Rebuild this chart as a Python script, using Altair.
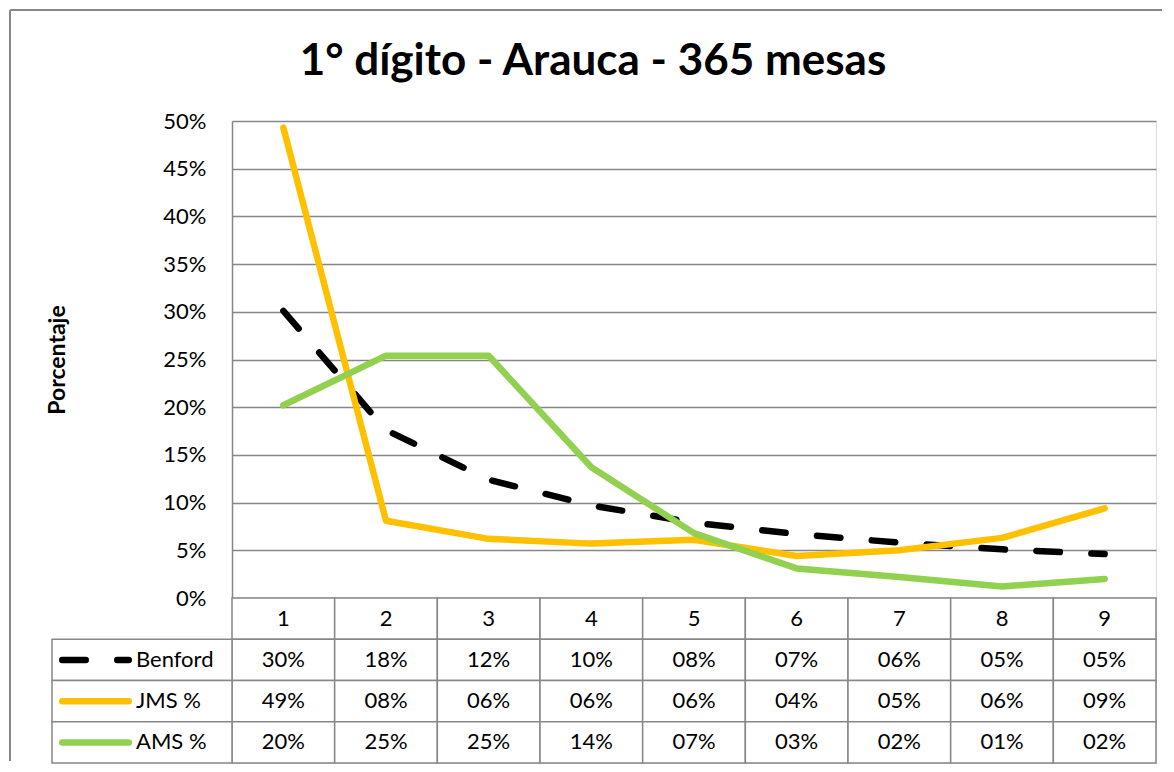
import altair as alt
import pandas as pd

# ---------------- data ----------------
DIGITS = [1, 2, 3, 4, 5, 6, 7, 8, 9]
SERIES = ["Benford", "JMS %", "AMS %"]
BENFORD = [0.301, 0.176, 0.124, 0.097, 0.079, 0.067, 0.058, 0.051, 0.046]
JMS = [0.493, 0.081, 0.062, 0.057, 0.061, 0.044, 0.050, 0.063, 0.094]
AMS = [0.202, 0.254, 0.254, 0.137, 0.068, 0.031, 0.022, 0.012, 0.020]
Y_TICKS = [0.0, 0.05, 0.10, 0.15, 0.20, 0.25, 0.30, 0.35, 0.40, 0.45, 0.50]
TITLE = "1° dígito - Arauca - 365 mesas"
Y_TITLE = "Porcentaje"

# ---------------- style ----------------
COLORS = {"Benford": "#000000", "JMS %": "#FFC000", "AMS %": "#92D050"}
DASH = {"Benford": [23.5, 31.5], "JMS %": None, "AMS %": None}
GRID = "#878787"
FONT = "Lato"
FS = 22
W, H_PLOT, H_TABLE = 924, 477, 165
PX = W / 9.0               # pixels per digit unit
LEG_LEFT = 0.5 - 180 / PX  # legend column left edge (data units)
LEG_L1 = 0.5 - (231 - 61.25) / PX
LEG_L2 = 0.5 - (231 - 127.75) / PX
LEG_TXT = 0.5 - 96 / PX
LW = 6.5

values = {"Benford": BENFORD, "JMS %": JMS, "AMS %": AMS}

rows = []
for name in SERIES:
    for d, v in zip(DIGITS, values[name]):
        rows.append({"serie": name, "digito": d, "valor": v})
lines_df = pd.DataFrame(rows)

def pct(v):
    return f"{int(v * 100 + 0.5):02d}%"

cells = []
for d in DIGITS:
    cells.append({"x1": d - 0.5, "x2": d + 0.5, "xt": d, "r0": 0, "r1": 1, "ym": 0.5, "txt": str(d)})
for i, name in enumerate(SERIES):
    for d, v in zip(DIGITS, values[name]):
        cells.append({"x1": d - 0.5, "x2": d + 0.5, "xt": d, "r0": i + 1, "r1": i + 2,
                      "ym": i + 1.5, "txt": pct(v)})
    cells.append({"x1": LEG_LEFT, "x2": 0.5, "xt": LEG_TXT, "r0": i + 1, "r1": i + 2,
                  "ym": i + 1.5, "txt": ""})
cells_df = pd.DataFrame(cells)

leg_df = pd.DataFrame([{"serie": n, "ym": i + 1.5, "l1": LEG_L1, "l2": LEG_L2, "xt": LEG_TXT}
                       for i, n in enumerate(SERIES)])

# ---------------- top: line chart ----------------
xs = alt.Scale(domain=[0.5, 9.5], nice=False, zero=False)
ys = alt.Scale(domain=[0, 0.5], nice=False, zero=False)

yaxis = alt.Axis(values=Y_TICKS, format=".0%", labelFont=FONT, labelFontSize=FS,
                 labelColor="black", labelPadding=26, labelFlush=False, ticks=False,
                 domainColor=GRID, domainWidth=1.5, gridColor=GRID, gridWidth=1.5,
                 title=Y_TITLE, titleFont=FONT, titleFontSize=23, titleFontWeight="bold",
                 titleColor="black", titleX=-175, titleY=H_PLOT / 2, titleAngle=270,
                 titleAlign="center", titleBaseline="middle")

base = alt.Chart(lines_df)

def line_layer(name):
    kw = dict(color=COLORS[name], strokeWidth=LW, strokeCap="round", strokeJoin="round")
    if DASH[name]:
        kw["strokeDash"] = DASH[name]
    return base.transform_filter(alt.datum.serie == name).mark_line(**kw).encode(
        x=alt.X("digito:Q", scale=xs, axis=None),
        y=alt.Y("valor:Q", scale=ys, axis=yaxis),
    )

frame_df = pd.DataFrame({"k": [0]})
left_border = alt.Chart(frame_df).mark_rule(color=GRID, strokeWidth=2).encode(
    x=alt.value(-222), y=alt.value(-111), y2=alt.value(640))
top_border = alt.Chart(frame_df).mark_rule(color=GRID, strokeWidth=2).encode(
    x=alt.value(-222), x2=alt.value(930), y=alt.value(-111))

top = alt.layer(
    left_border, top_border,
    line_layer("Benford"), line_layer("JMS %"), line_layer("AMS %"),
).properties(width=W, height=H_PLOT)

# ---------------- bottom: data table ----------------
tx = alt.Scale(domain=[0.5, 9.5], nice=False, zero=False)
ty = alt.Scale(domain=[0, 4], nice=False, zero=False, reverse=True)

tcells = alt.Chart(cells_df).mark_rect(fill="white", stroke=GRID, strokeWidth=1.5).encode(
    x=alt.X("x1:Q", scale=tx, axis=None), x2="x2:Q",
    y=alt.Y("r0:Q", scale=ty, axis=None), y2="r1:Q",
)
ttext = alt.Chart(cells_df).mark_text(font=FONT, fontSize=FS, color="black",
                                      align="center", baseline="middle").encode(
    x=alt.X("xt:Q", scale=tx, axis=None),
    y=alt.Y("ym:Q", scale=ty, axis=None),
    text="txt:N",
)
leg_lines = alt.layer(*[
    alt.Chart(leg_df).transform_filter(alt.datum.serie == n).mark_rule(
        color=COLORS[n], strokeWidth=LW, strokeCap="round",
        **({"strokeDash": DASH[n]} if DASH[n] else {})
    ).encode(
        x=alt.X("l1:Q", scale=tx, axis=None), x2="l2:Q",
        y=alt.Y("ym:Q", scale=ty, axis=None),
    ) for n in SERIES
])
leg_text = alt.Chart(leg_df).mark_text(font=FONT, fontSize=FS, color="black",
                                       align="left", baseline="middle").encode(
    x=alt.X("xt:Q", scale=tx, axis=None),
    y=alt.Y("ym:Q", scale=ty, axis=None),
    text="serie:N",
)
bottom = alt.layer(tcells, ttext, leg_lines, leg_text).properties(width=W, height=H_TABLE)

chart = alt.vconcat(top, bottom, spacing=0, bounds="flush").resolve_scale(
    x="independent", y="independent"
).properties(
    padding=0,
    title=alt.Title(TITLE, font=FONT, fontSize=44, fontWeight="bold", color="black",
                    anchor="middle", offset=-110, baseline="alphabetic", dx=7),
).configure_view(stroke=None).configure(background="white")

chart.save("out.html", embed_options={"renderer": "svg", "actions": False})
